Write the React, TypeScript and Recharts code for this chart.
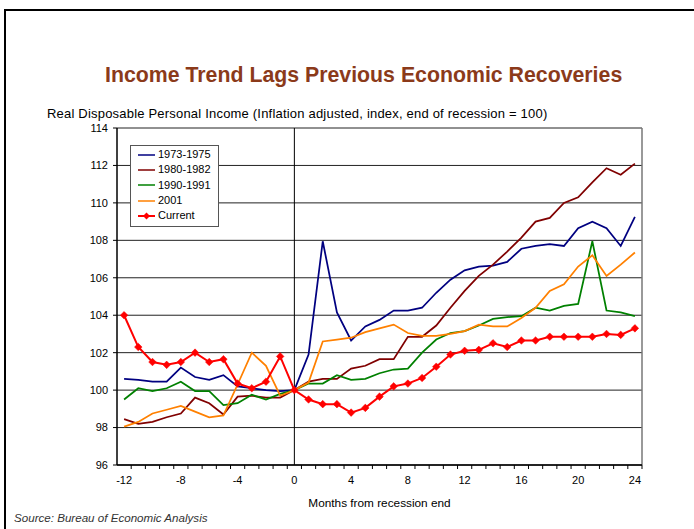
import { LineChart, Line, XAxis, YAxis, CartesianGrid, ReferenceLine, Legend } from 'recharts';

const months = [-12, -11, -10, -9, -8, -7, -6, -5, -4, -3, -2, -1, 0, 1, 2, 3, 4, 5, 6, 7, 8, 9, 10, 11, 12, 13, 14, 15, 16, 17, 18, 19, 20, 21, 22, 23, 24];

const s1973 = [100.6, 100.55, 100.45, 100.45, 101.2, 100.7, 100.55, 100.8, 100.2, 100.1, 100.0, 99.95, 100.0, 101.9, 107.95, 104.15, 102.65, 103.4, 103.75, 104.25, 104.25, 104.4, 105.2, 105.9, 106.4, 106.6, 106.65, 106.85, 107.55, 107.7, 107.8, 107.7, 108.65, 109.0, 108.65, 107.7, 109.25];
const s1980 = [98.45, 98.2, 98.3, 98.55, 98.75, 99.6, 99.3, 98.7, 99.65, 99.7, 99.6, 99.6, 100.0, 100.45, 100.6, 100.6, 101.15, 101.3, 101.65, 101.65, 102.85, 102.85, 103.45, 104.4, 105.3, 106.1, 106.7, 107.4, 108.15, 109.0, 109.2, 110.0, 110.3, 111.1, 111.85, 111.5, 112.1];
const s1990 = [99.5, 100.1, 99.95, 100.1, 100.45, 99.95, 99.95, 99.2, 99.3, 99.75, 99.5, 99.8, 100.0, 100.35, 100.35, 100.8, 100.55, 100.6, 100.9, 101.1, 101.15, 102.0, 102.7, 103.05, 103.15, 103.45, 103.8, 103.9, 103.95, 104.4, 104.25, 104.5, 104.6, 107.95, 104.25, 104.15, 103.95];
const s2001 = [98.05, 98.3, 98.75, 98.95, 99.15, 98.85, 98.55, 98.65, 100.3, 102.0, 101.3, 99.7, 100.0, 100.4, 102.6, 102.7, 102.8, 103.1, 103.3, 103.5, 103.05, 102.9, 102.9, 103.0, 103.15, 103.5, 103.4, 103.4, 103.85, 104.4, 105.3, 105.65, 106.6, 107.2, 106.1, 106.7, 107.35];
const current = [104.0, 102.3, 101.5, 101.35, 101.5, 102.0, 101.5, 101.65, 100.35, 100.1, 100.45, 101.8, 100.0, 99.5, 99.25, 99.25, 98.8, 99.05, 99.65, 100.2, 100.35, 100.65, 101.25, 101.9, 102.1, 102.15, 102.5, 102.3, 102.65, 102.65, 102.85, 102.85, 102.85, 102.85, 103.0, 102.95, 103.3];

const yTicks = [96, 98, 100, 102, 104, 106, 108, 110, 112, 114];
const xLabels = [-12, -8, -4, 0, 4, 8, 12, 16, 20, 24];

const SERIES = [
  { key: 's1973', name: '1973-1975', color: '#000080' },
  { key: 's1980', name: '1980-1982', color: '#800000' },
  { key: 's1990', name: '1990-1991', color: '#008000' },
  { key: 's2001', name: '2001', color: '#FF8000' },
  { key: 'current', name: 'Current', color: '#FF0000' },
];

const data = months.map((m, i) => ({
  month: m,
  s1973: s1973[i],
  s1980: s1980[i],
  s1990: s1990[i],
  s2001: s2001[i],
  current: current[i],
}));

const FONT = '"Liberation Sans", Arial, sans-serif';
const HALF = 7.1;

function Diamond({ cx, cy }: any) {
  if (cx == null || cy == null) return null;
  const r = 3.8;
  return (
    <polygon
      key={`${cx}-${cy}`}
      points={`${cx},${cy - r} ${cx + r},${cy} ${cx},${cy + r} ${cx - r},${cy}`}
      fill="#FF0000"
      stroke="#FF0000"
      strokeWidth={0.5}
    />
  );
}

function MonthTick({ x, y, payload }: any) {
  const v = payload.value;
  return (
    <g>
      <line x1={x + HALF} y1={y - 6} x2={x + HALF} y2={y - 2} stroke="#000" />
      {xLabels.includes(v) && (
        <text x={x} y={y + 13} textAnchor="middle" fontSize={11} fontFamily={FONT} fill="#000">
          {v}
        </text>
      )}
    </g>
  );
}

function LegendBox() {
  return (
    <div
      style={{
        border: '1px solid #555',
        background: '#fff',
        padding: '1px 6px 3px 7px',
        width: 74,
        fontFamily: FONT,
        fontSize: 11,
        lineHeight: '13px',
        textAlign: 'left',
      }}
    >
      {SERIES.map((s) => (
        <div key={s.key} style={{ display: 'flex', alignItems: 'center', height: 15.3 }}>
          <svg width={18} height={10} style={{ marginRight: 2, flex: 'none' }}>
            <line x1={0} y1={5} x2={17} y2={5} stroke={s.color} strokeWidth={s.key === 'current' ? 2 : 1.5} />
            {s.key === 'current' && <polygon points="8.5,1.5 12,5 8.5,8.5 5,5" fill="#FF0000" />}
          </svg>
          <span style={{ whiteSpace: 'nowrap' }}>{s.name}</span>
        </div>
      ))}
    </div>
  );
}

export default function App() {
  return (
    <div style={{ position: 'absolute', left: 0, top: 0, width: 694, height: 529, background: '#fff', overflow: 'hidden' }}>
      <div
        style={{
          position: 'absolute',
          left: 4,
          top: 9,
          width: 720,
          height: 600,
          borderLeft: '2px solid #000',
          borderTop: '2px solid #000',
        }}
      />
      <div
        style={{
          position: 'absolute',
          left: 105,
          top: 63,
          whiteSpace: 'nowrap',
          fontFamily: FONT,
          fontWeight: 'bold',
          fontSize: 21.3,
          color: '#8B3A1A',
        }}
      >
        Income Trend Lags Previous Economic Recoveries
      </div>
      <div
        style={{
          position: 'absolute',
          left: 47,
          top: 106,
          whiteSpace: 'nowrap',
          fontFamily: FONT,
          fontSize: 13,
          letterSpacing: 0.2,
          color: '#000',
        }}
      >
        Real Disposable Personal Income (Inflation adjusted, index, end of recession = 100)
      </div>
      <div style={{ position: 'absolute', left: 117, width: 525, top: 496, textAlign: 'center', fontFamily: FONT, fontSize: 11.8 }}>
        Months from recession end
      </div>
      <div style={{ position: 'absolute', left: 14, top: 511, fontFamily: FONT, fontSize: 11.6, fontStyle: 'italic', color: '#333' }}>
        Source: Bureau of Economic Analysis
      </div>
      <div style={{ position: 'absolute', left: 0, top: 0 }}>
        <LineChart width={694} height={529} data={data} margin={{ top: 128, right: 52, left: 87, bottom: 34 }}>
          <CartesianGrid vertical={false} stroke="#222" strokeWidth={1} />
          <XAxis
            dataKey="month"
            type="number"
            domain={[-12.5, 24.5]}
            ticks={months}
            interval={0}
            height={30}
            tickSize={4}
            tickMargin={2}
            tickLine={false}
            axisLine={{ stroke: '#000', strokeWidth: 1.5 }}
            tick={<MonthTick />}
          />
          <YAxis
            type="number"
            domain={[96, 114]}
            ticks={yTicks}
            interval={0}
            width={30}
            tickSize={4}
            tickMargin={5}
            axisLine={{ stroke: '#000', strokeWidth: 1.5 }}
            tickLine={{ stroke: '#000' }}
            tick={{ fontSize: 11, fill: '#000', fontFamily: FONT }}
          />
          <ReferenceLine x={0} stroke="#000" strokeWidth={1} />
          <ReferenceLine x={24.5} stroke="#777" strokeWidth={1.5} />
          <Legend
            layout="horizontal"
            verticalAlign="middle"
            align="center"
            wrapperStyle={{ position: 'absolute', left: 130, top: 145, width: 'auto', height: 'auto' }}
            content={() => <LegendBox />}
          />
          <Line dataKey="s1973" name="1973-1975" stroke="#000080" strokeWidth={1.75} dot={false} isAnimationActive={false} />
          <Line dataKey="s1980" name="1980-1982" stroke="#800000" strokeWidth={1.75} dot={false} isAnimationActive={false} />
          <Line dataKey="s1990" name="1990-1991" stroke="#008000" strokeWidth={1.75} dot={false} isAnimationActive={false} />
          <Line dataKey="s2001" name="2001" stroke="#FF8000" strokeWidth={1.75} dot={false} isAnimationActive={false} />
          <Line dataKey="current" name="Current" stroke="#FF0000" strokeWidth={2} dot={<Diamond />} isAnimationActive={false} />
        </LineChart>
      </div>
    </div>
  );
}
